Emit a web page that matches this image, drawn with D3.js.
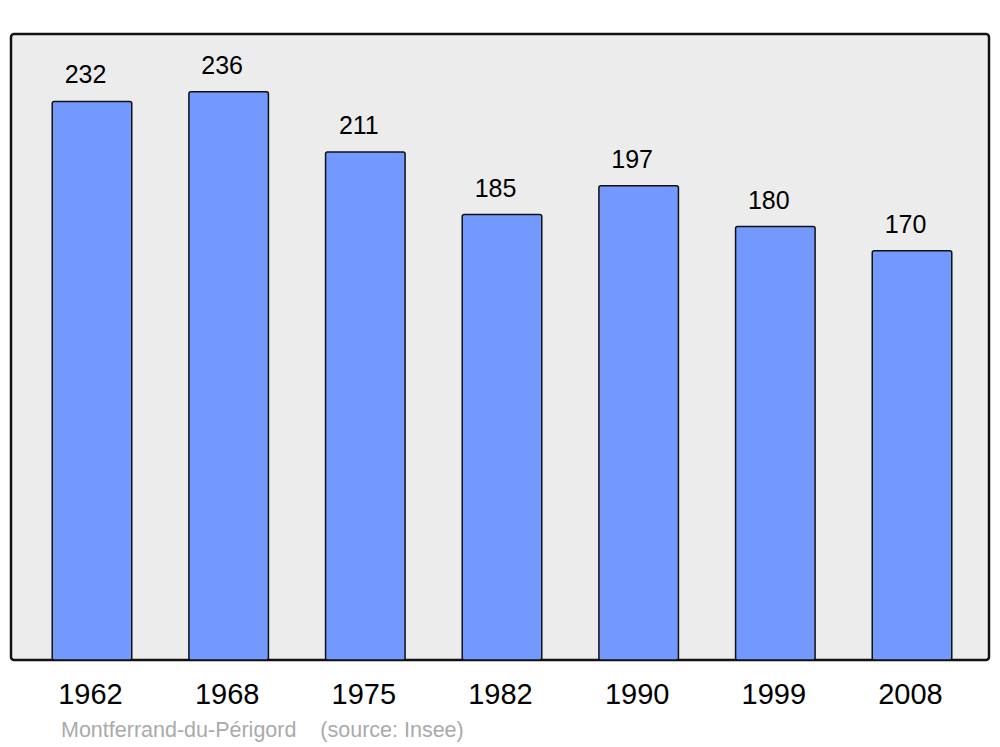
<!DOCTYPE html>
<html>
<head>
<meta charset="utf-8">
<script src="https://cdn.jsdelivr.net/npm/d3@7"></script>
<style>
  body { margin: 0; background: #fff; }
  svg { display: block; font-family: "Liberation Sans", Arial, sans-serif; }
</style>
</head>
<body>
<svg id="chart"></svg>
<script>
const years = ["1962", "1968", "1975", "1982", "1990", "1999", "2008"];
const population = [232, 236, 211, 185, 197, 180, 170];
const commune = "Montferrand-du-Périgord";
const source = "(source: Insee)";

const width = 1000, height = 747;
const panel = { left: 11, top: 34, right: 989, bottom: 660 };

const svg = d3.select("#chart")
  .attr("width", width)
  .attr("height", height);

// panel background
svg.append("rect")
  .attr("x", panel.left)
  .attr("y", panel.top)
  .attr("width", panel.right - panel.left)
  .attr("height", panel.bottom - panel.top)
  .attr("rx", 3)
  .attr("fill", "#ececec")
  .attr("stroke", "#111")
  .attr("stroke-width", 2.5);

const x = d3.scaleBand()
  .domain(years)
  .range([13, 991])
  .paddingInner(0.418)
  .paddingOuter(0.287);

const y = d3.scaleLinear()
  .domain([0, 260])
  .range([panel.bottom, panel.top]);

const data = years.map((yr, i) => ({ year: yr, value: population[i] }));

svg.append("g")
  .selectAll("rect")
  .data(data)
  .enter().append("rect")
  .attr("x", d => x(d.year))
  .attr("y", d => y(d.value))
  .attr("width", x.bandwidth())
  .attr("height", d => y(0) - y(d.value))
  .attr("rx", 2)
  .attr("fill", "#7399ff")
  .attr("stroke", "#111")
  .attr("stroke-width", 1.5);

// value labels
svg.append("g")
  .selectAll("text")
  .data(data)
  .enter().append("text")
  .attr("x", d => x(d.year) + x.bandwidth() / 2 - 6.5)
  .attr("y", d => y(d.value) - 18)
  .attr("text-anchor", "middle")
  .style("font-size", "25px")
  .attr("fill", "#000")
  .text(d => d.value);

// year labels
svg.append("g")
  .selectAll("text")
  .data(data)
  .enter().append("text")
  .attr("x", d => x(d.year) + x.bandwidth() / 2 - 1.5)
  .attr("y", 704)
  .attr("text-anchor", "middle")
  .style("font-size", "29px")
  .attr("fill", "#000")
  .text(d => d.year);

svg.append("text")
  .attr("x", 61)
  .attr("y", 737)
  .style("font-size", "21.5px")
  .attr("fill", "#aaa")
  .attr("xml:space", "preserve")
  .style("white-space", "pre")
  .text(commune + "    " + source);
</script>
</body>
</html>
